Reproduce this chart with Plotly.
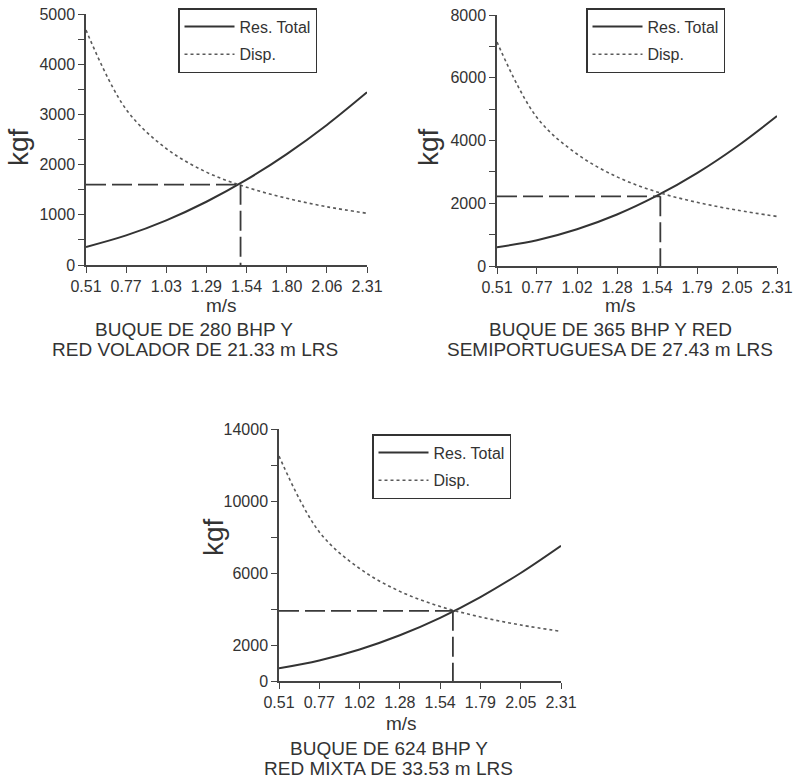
import plotly.graph_objects as go

# ---------------- data ----------------
X_TICKVALS = [0.51, 0.7671, 1.0243, 1.2814, 1.5386, 1.7957, 2.0529, 2.31]
X_TICKTEXT_1 = ["0.51", "0.77", "1.03", "1.29", "1.54", "1.80", "2.06", "2.31"]
X_TICKTEXT_2 = ["0.51", "0.77", "1.02", "1.28", "1.54", "1.79", "2.05", "2.31"]
X_TICKTEXT_3 = ["0.51", "0.77", "1.02", "1.28", "1.54", "1.79", "2.05", "2.31"]

speed = [0.51, 0.7671, 1.0243, 1.2814, 1.5386, 1.7957, 2.0529, 2.31]

res_total_1 = [360, 590, 890, 1260, 1700, 2210, 2790, 3440]
disp_1 = [4680, 3100, 2320, 1850, 1550, 1330, 1160, 1030]
res_total_2 = [600, 820, 1170, 1640, 2240, 2960, 3810, 4780]
disp_2 = [7140, 4730, 3570, 2840, 2360, 2030, 1780, 1580]
res_total_3 = [705, 1140, 1750, 2540, 3510, 4665, 6000, 7510]
disp_3 = [12500, 8280, 6250, 4980, 4140, 3560, 3110, 2760]

cross_speed = [1.50, 1.56, 1.62]
cross_force = [1600, 2220, 3900]

Y_RANGES = [[0, 5000], [0, 8000], [0, 14000]]
Y_TICKVALS_1 = [0, 500, 1000, 1500, 2000, 2500, 3000, 3500, 4000, 4500, 5000]
Y_TICKTEXT_1 = ["0", "", "1000", "", "2000", "", "3000", "", "4000", "", "5000"]
Y_TICKVALS_2 = [0, 1000, 2000, 3000, 4000, 5000, 6000, 7000, 8000]
Y_TICKTEXT_2 = ["0", "", "2000", "", "4000", "", "6000", "", "8000"]
Y_TICKVALS_3 = [0, 2000, 4000, 6000, 8000, 10000, 12000, 14000]
Y_TICKTEXT_3 = ["0", "2000", "", "6000", "", "10000", "", "14000"]

TITLES = [
    ["BUQUE DE 280 BHP Y", "RED VOLADOR DE 21.33 m LRS"],
    ["BUQUE DE 365 BHP Y RED", "SEMIPORTUGUESA DE 27.43 m LRS"],
    ["BUQUE DE 624 BHP Y", "RED MIXTA DE 33.53 m LRS"],
]
LEGEND_NAMES = ["Res. Total", "Disp."]
X_TITLE = "m/s"
Y_TITLE = "kgf"

# ---------------- layout helpers ----------------
W, H = 797, 780
def px(x):
    return x / W
def py(y):
    return 1 - y / H

FONT = "Liberation Sans, Arial, sans-serif"
TXT = "#333333"
AX = "#444444"
LINE = "#333333"
DOT = "#5a5a5a"

# plot areas in pixels: (x0, x1, ytop, ybottom)
AREAS = [(86, 367, 14, 265), (497, 777, 15, 266), (279, 561, 429, 681)]
LEGEND_POS = [(178, 8), (586, 8), (372, 434)]
YTITLE_POS = [(18, 147), (428, 147), (213, 537)]
XTITLE_POS = [(221, 306), (620, 306), (402, 723)]
TITLE_POS = [((194, 329), (195, 349)), ((610, 329), (610, 349)), ((389, 748), (388, 768))]
YTICK_SIZE = [16, 16, 16]

fig = go.Figure()

series = [
    (res_total_1, disp_1, X_TICKTEXT_1, Y_TICKVALS_1, Y_TICKTEXT_1),
    (res_total_2, disp_2, X_TICKTEXT_2, Y_TICKVALS_2, Y_TICKTEXT_2),
    (res_total_3, disp_3, X_TICKTEXT_3, Y_TICKVALS_3, Y_TICKTEXT_3),
]

annotations = []
layout_kw = {}
for i, (res, disp, xtt, ytv, ytt) in enumerate(series):
    n = i + 1
    xa = "x" if n == 1 else f"x{n}"
    ya = "y" if n == 1 else f"y{n}"
    leg = "legend" if n == 1 else f"legend{n}"

    fig.add_trace(go.Scatter(
        x=speed, y=res, mode="lines", name=LEGEND_NAMES[0],
        line=dict(color=LINE, width=2, shape="spline", smoothing=1.0),
        xaxis=xa, yaxis=ya, legend=leg, legendgroup=f"r{n}"))
    fig.add_trace(go.Scatter(
        x=speed, y=disp, mode="lines", name=LEGEND_NAMES[1],
        line=dict(color=DOT, width=1.6, dash="3px,3px", shape="spline", smoothing=1.0),
        xaxis=xa, yaxis=ya, legend=leg, legendgroup=f"d{n}"))
    # guide lines at the intersection
    xc, yc = cross_speed[i], cross_force[i]
    fig.add_trace(go.Scatter(
        x=[speed[0], xc], y=[yc, yc], mode="lines", showlegend=False,
        line=dict(color="#3a3a3a", width=1.8, dash="20px,6px"),
        xaxis=xa, yaxis=ya, hoverinfo="skip"))
    fig.add_trace(go.Scatter(
        x=[xc, xc], y=[yc, 0], mode="lines", showlegend=False,
        line=dict(color="#3a3a3a", width=1.8, dash="20px,6px"),
        xaxis=xa, yaxis=ya, hoverinfo="skip"))

    x0, x1, yt, yb = AREAS[i]
    axis_common = dict(showgrid=False, zeroline=False, showline=True,
                       linecolor=AX, linewidth=1.5, ticks="outside",
                       ticklen=6, tickwidth=1.3, tickcolor=AX, automargin=False)
    layout_kw["xaxis" if n == 1 else f"xaxis{n}"] = dict(
        domain=[px(x0), px(x1)], range=[speed[0], speed[-1]],
        tickmode="array", tickvals=X_TICKVALS, ticktext=xtt,
        tickfont=dict(family=FONT, size=16, color=TXT),
        anchor=ya, **axis_common)
    layout_kw["yaxis" if n == 1 else f"yaxis{n}"] = dict(
        domain=[py(yb), py(yt)], range=Y_RANGES[i],
        tickmode="array", tickvals=ytv, ticktext=ytt,
        tickfont=dict(family=FONT, size=YTICK_SIZE[i], color=TXT),
        anchor=xa, **axis_common)

    lx, ly = LEGEND_POS[i]
    layout_kw[leg] = dict(
        x=px(lx), y=py(ly), xanchor="left", yanchor="top",
        bordercolor="#333333", borderwidth=1.5, bgcolor="white",
        font=dict(family=FONT, size=16, color=TXT),
        tracegroupgap=4, itemwidth=50)

    tx, ty = YTITLE_POS[i]
    annotations.append(dict(text=Y_TITLE, x=px(tx), y=py(ty), xref="paper", yref="paper",
                            xanchor="center", yanchor="middle",
                            showarrow=False, textangle=-90,
                            font=dict(family=FONT, size=28, color=TXT)))
    tx, ty = XTITLE_POS[i]
    annotations.append(dict(text=X_TITLE, x=px(tx), y=py(ty), xref="paper", yref="paper",
                            xanchor="center", yanchor="middle",
                            showarrow=False, font=dict(family=FONT, size=19, color=TXT)))
    for (cx, cy), line_text in zip(TITLE_POS[i], TITLES[i]):
        annotations.append(dict(text=line_text, x=px(cx), y=py(cy), xref="paper", yref="paper",
                                xanchor="center", yanchor="middle",
                                showarrow=False, font=dict(family=FONT, size=19, color=TXT)))

fig.update_layout(
    width=W, height=H,
    margin=dict(l=0, r=0, t=0, b=0, autoexpand=False),
    paper_bgcolor="white", plot_bgcolor="white",
    showlegend=True,
    annotations=annotations,
    **layout_kw,
)

fig.write_html("out.html",
               config={"displayModeBar": False},
               post_script="document.body.style.margin='0';document.body.style.overflow='hidden';")
